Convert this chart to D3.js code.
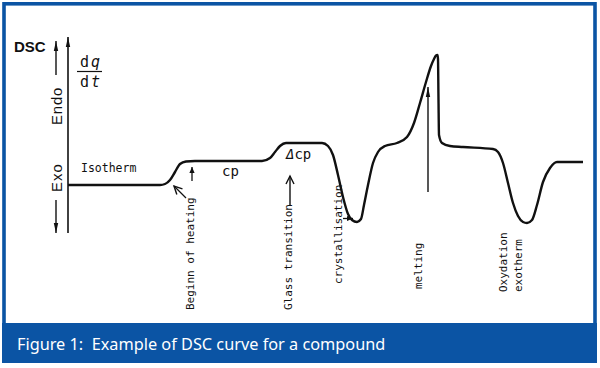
<!DOCTYPE html>
<html><head><meta charset="utf-8">
<script src="https://cdn.jsdelivr.net/npm/d3@7"></script>
<style>html,body{margin:0;padding:0;background:#fff;}svg{display:block;}</style>
</head><body>
<script>
// ---- data ----
// time axis (arbitrary units) and heat-flow signal (arbitrary units, endo up)
const timeVals = [0,92,97,102,107,112,118,127,194,202,207,212,218,232,254,260,265,270,275,280,284,289,293,296,300,305,310,317,329,339,346,352,358,363,366,368,369.5,370,370.5,371,374,382,395,425,430,435,440,445,450,455,459,464,469,475,482,489,515];
const heatFlow = [0,0,1,5,13,21,23.5,24,24,27,33,39,42,42,42,39,30,10,-12,-29,-35,-37,-34,-20,0,22,33,39,42,48,62,82,103,119,126,129.5,130,126,85,50,42,39,38,36,33,22,2,-18,-31,-37,-38,-35,-20,3,17,23,23];
const curveLabels = ["Beginn of heating","Glass transition","crystallisation","melting"];
const oxLabels = ["Oxydation","exotherm"];
const caption = "Figure 1:\u00a0 Example of DSC curve for a compound";

const W=600,H=368, blue="#0b54a4";
const svg=d3.select("body").append("svg").attr("width",W).attr("height",H);
svg.append("rect").attr("width",W).attr("height",H).attr("fill","#fff");

const x=d3.scaleLinear().domain([0,515]).range([68,583]);
const y=d3.scaleLinear().domain([0,150]).range([185,35]);

// line with optional arrowhead at end: "f" filled narrow, "o" open, "s" small filled
function ln(x1,y1,x2,y2,m,w){
  svg.append("line").attr("x1",x1).attr("y1",y1).attr("x2",x2).attr("y2",y2)
   .attr("stroke","#111").attr("stroke-width",w||1.4);
  if(!m) return;
  const a=Math.atan2(y2-y1,x2-x1);
  const L = m==="f"?10:(m==="o"?8:6), hw = m==="f"?2.2:(m==="o"?4:2.6);
  const bx=x2-L*Math.cos(a), by=y2-L*Math.sin(a);
  const px=-Math.sin(a)*hw, py=Math.cos(a)*hw;
  if(m==="o"){
    svg.append("path").attr("d",`M${bx+px},${by+py}L${x2},${y2}L${bx-px},${by-py}`)
     .attr("fill","none").attr("stroke","#111").attr("stroke-width",1.4).attr("stroke-linejoin","miter");
  } else {
    svg.append("path").attr("d",`M${bx+px},${by+py}L${x2},${y2}L${bx-px},${by-py}Z`).attr("fill","#111");
  }
}

// main axis
ln(x(0),y(-48),x(0),y(148),"f",1.6);
// DSC up arrow, Exo down arrow
ln(56,75,56,41,"f",1.4);
ln(56,200,56,233,"f",1.4);

svg.append("text").attr("x",14).attr("y",52).text("DSC")
 .attr("font-family","Liberation Sans, Arial, sans-serif").attr("font-weight","bold").attr("font-size",15).attr("fill","#111");
const rotText=(t,cx,sy,opts)=>svg.append("text").attr("transform",`translate(${cx},${sy}) rotate(-90)`)
 .attr("dominant-baseline","central").text(t).attr("fill","#111")
 .attr("font-family",opts.f).attr("font-size",opts.s).attr("letter-spacing",opts.ls||0);
rotText("Endo",56,125,{f:"Liberation Sans, Arial, sans-serif",s:15,ls:0.8});
rotText("Exo",56,192,{f:"Liberation Sans, Arial, sans-serif",s:15,ls:1});

// dq/dt
const mono="DejaVu Sans Mono, monospace";
const dq=svg.append("text").attr("x",80).attr("y",67).attr("font-family",mono).attr("font-size",15).attr("fill","#111");
dq.append("tspan").text("d"); dq.append("tspan").attr("dx",2).attr("font-style","italic").text("q");
ln(77,71.5,102,71.5,null,1.2);
const dt=svg.append("text").attr("x",80).attr("y",87).attr("font-family",mono).attr("font-size",15).attr("fill","#111");
dt.append("tspan").text("d"); dt.append("tspan").attr("dx",2).attr("font-style","italic").text("t");

// curve
const pts=timeVals.map((t,i)=>[t,heatFlow[i]]);
svg.append("path").datum(pts).attr("fill","none").attr("stroke","#111").attr("stroke-width",2.4)
 .attr("stroke-linejoin","round").attr("d",d3.line().x(d=>x(d[0])).y(d=>y(d[1])).curve(d3.curveMonotoneX));

// labels on curve
const ht=(t,xx,yy,s)=>svg.append("text").attr("x",xx).attr("y",yy).text(t).attr("font-family",mono).attr("font-size",s).attr("fill","#111");
ht("Isotherm",81,172,11.5);
ht("cp",222,176,14);
const dcp=ht("",286,159,14);
dcp.append("tspan").attr("font-style","italic").text("Δ");
dcp.append("tspan").text("cp");

// small arrows
ln(186,198,174,186,"o",1.3);
ln(192,181,192,167,"s",1.3);
ln(290,206,290,176,"o",1.4);
ln(428,192,428,87,"f",1.4);
ln(343,218.5,353,218.5,"s",1.3);

// rotated annotation labels
rotText(curveLabels[0],190,310,{f:mono,s:11});
rotText(curveLabels[1],288,310,{f:mono,s:11});
rotText(curveLabels[2],338,284,{f:mono,s:11});
rotText(curveLabels[3],418,289,{f:mono,s:11});
rotText(oxLabels[0],503,292,{f:mono,s:11});
rotText(oxLabels[1],518,292,{f:mono,s:11});

// frame and caption
svg.append("rect").attr("x",4).attr("y",3.8).attr("width",591).attr("height",340).attr("fill","none").attr("stroke",blue).attr("stroke-width",3.6);
svg.append("rect").attr("x",2).attr("y",323).attr("width",595).attr("height",40).attr("fill",blue);
svg.append("text").attr("x",17).attr("y",350).text(caption).attr("fill","#fff")
 .attr("font-family","Noto Sans, Open Sans, sans-serif").attr("font-size",16.3);
</script>
</body></html>
